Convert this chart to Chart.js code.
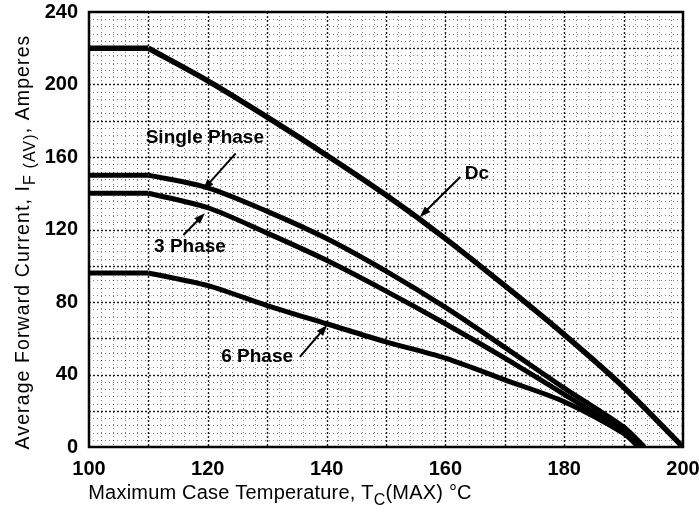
<!DOCTYPE html>
<html>
<head>
<meta charset="utf-8">
<script src="https://cdn.jsdelivr.net/npm/chart.js@4.4.0/dist/chart.umd.min.js"></script>
<style>
  html, body { margin: 0; padding: 0; background: #fff; }
  #wrap { width: 699px; height: 514px; }
</style>
</head>
<body>
<div id="wrap"><canvas id="myChart" width="699" height="514"></canvas></div>
<script>
// Readings (case temperature in °C, current in A)
const dcTemp = [100, 110, 120, 130, 140, 150, 160, 170, 180, 190, 200];
const dcAmps = [220, 220, 202, 182, 161, 139, 115, 89, 62, 33, 0];

const singleTemp = [100, 110, 120, 130, 140, 150, 160, 170, 180, 190, 193.5];
const singleAmps = [150, 150, 143, 130, 115, 97, 77, 55, 32.5, 11, 0];

const threeTemp = [100, 110, 120, 130, 140, 150, 160, 170, 180, 190, 193];
const threeAmps = [140, 140, 132, 118, 103, 86, 68, 49, 29, 8.5, 0];

const sixTemp = [100, 110, 120, 130, 140, 150, 160, 170, 180, 190, 192.5];
const sixAmps = [96, 96, 89, 78, 68, 58, 49, 37, 25, 7.5, 0];

const seriesNames = ['Dc', 'Single Phase', '3 Phase', '6 Phase'];

const xTicks = [100, 120, 140, 160, 180, 200];
const yTicks = [0, 40, 80, 120, 160, 200, 240];

// labels with arrows, in data units: text centre, arrow tail, arrow tip
const notes = [
  { text: 'Single Phase', at: [119.5, 170.5], from: [124.7, 162], to: [119.2, 141.8] },
  { text: '3 Phase', at: [117, 110.5], from: [115.9, 117], to: [119.5, 129] },
  { text: '6 Phase', at: [128.3, 49.7], from: [135.5, 49.7], to: [140.1, 67.3] },
  { text: 'Dc', at: [165.3, 150.6], from: [162.5, 149], to: [155.7, 126.9] }
];

function toPoints(xs, ys) {
  return xs.map((x, i) => ({ x: x, y: ys[i] }));
}

const FONT = "'Liberation Sans', Arial, sans-serif";

// dotted graph-paper grid + heavy frame
const gridPlugin = {
  id: 'paperGrid',
  beforeDatasetsDraw(chart) {
    const ctx = chart.ctx;
    const a = chart.chartArea;
    const xs = chart.scales.x;
    const ys = chart.scales.y;
    ctx.save();

    // minor lines
    ctx.strokeStyle = 'rgba(0,0,0,0.5)';
    ctx.lineWidth = 1;
    ctx.setLineDash([1, 3]);
    for (let v = 100; v <= 200; v += 2) {
      if (v % 10 === 0) continue;
      const px = Math.round(xs.getPixelForValue(v)) + 0.5;
      ctx.beginPath(); ctx.moveTo(px, a.top); ctx.lineTo(px, a.bottom); ctx.stroke();
    }
    for (let v = 0; v <= 240; v += 4) {
      if (v % 20 === 0) continue;
      const py = Math.round(ys.getPixelForValue(v)) + 0.5;
      ctx.beginPath(); ctx.moveTo(a.left, py); ctx.lineTo(a.right, py); ctx.stroke();
    }

    // major lines
    ctx.strokeStyle = 'rgba(0,0,0,0.9)';
    ctx.lineWidth = 1.4;
    ctx.setLineDash([2, 2]);
    for (let v = 110; v < 200; v += 10) {
      const px = Math.round(xs.getPixelForValue(v)) + 0.5;
      ctx.beginPath(); ctx.moveTo(px, a.top); ctx.lineTo(px, a.bottom); ctx.stroke();
    }
    for (let v = 20; v < 240; v += 20) {
      const py = Math.round(ys.getPixelForValue(v)) + 0.5;
      ctx.beginPath(); ctx.moveTo(a.left, py); ctx.lineTo(a.right, py); ctx.stroke();
    }

    // frame
    ctx.setLineDash([]);
    ctx.strokeStyle = '#000';
    ctx.lineWidth = 2.5;
    ctx.strokeRect(a.left, a.top, a.right - a.left, a.bottom - a.top);
    ctx.restore();
  }
};

function drawArrow(ctx, x1, y1, x2, y2) {
  const ang = Math.atan2(y2 - y1, x2 - x1);
  const len = 11, half = 4;
  ctx.beginPath();
  ctx.moveTo(x1, y1);
  ctx.lineTo(x2 - Math.cos(ang) * len * 0.8, y2 - Math.sin(ang) * len * 0.8);
  ctx.stroke();
  ctx.beginPath();
  ctx.moveTo(x2, y2);
  ctx.lineTo(x2 - Math.cos(ang) * len + Math.sin(ang) * half, y2 - Math.sin(ang) * len - Math.cos(ang) * half);
  ctx.lineTo(x2 - Math.cos(ang) * len - Math.sin(ang) * half, y2 - Math.sin(ang) * len + Math.cos(ang) * half);
  ctx.closePath();
  ctx.fill();
}

const notesPlugin = {
  id: 'curveNotes',
  afterDatasetsDraw(chart) {
    const ctx = chart.ctx;
    const xs = chart.scales.x;
    const ys = chart.scales.y;
    ctx.save();
    ctx.fillStyle = '#000';
    ctx.strokeStyle = '#000';
    ctx.lineWidth = 2;
    ctx.font = 'bold 19px ' + FONT;
    ctx.textAlign = 'center';
    ctx.textBaseline = 'middle';
    notes.forEach(n => {
      ctx.fillText(n.text, xs.getPixelForValue(n.at[0]), ys.getPixelForValue(n.at[1]));
      drawArrow(ctx,
        xs.getPixelForValue(n.from[0]), ys.getPixelForValue(n.from[1]),
        xs.getPixelForValue(n.to[0]), ys.getPixelForValue(n.to[1]));
    });
    ctx.restore();
  }
};

// writes "pre" + subscript + "post" starting at x (baseline y)
function drawSubText(ctx, parts, x, y, size) {
  ctx.font = size + 'px ' + FONT;
  ctx.fillText(parts[0], x, y);
  x += ctx.measureText(parts[0]).width;
  ctx.font = Math.round(size * 0.8) + 'px ' + FONT;
  ctx.fillText(parts[1], x, y + size * 0.3);
  x += ctx.measureText(parts[1]).width;
  ctx.font = size + 'px ' + FONT;
  ctx.fillText(parts[2], x, y);
}

function subTextWidth(ctx, parts, size) {
  ctx.font = size + 'px ' + FONT;
  let w = ctx.measureText(parts[0]).width + ctx.measureText(parts[2]).width;
  ctx.font = Math.round(size * 0.8) + 'px ' + FONT;
  return w + ctx.measureText(parts[1]).width;
}

const titlesPlugin = {
  id: 'axisTitles',
  afterDraw(chart) {
    const ctx = chart.ctx;
    ctx.save();
    ctx.fillStyle = '#000';
    ctx.textAlign = 'left';
    ctx.textBaseline = 'alphabetic';

    ctx.letterSpacing = '0.2px';
    const xParts = ['Maximum Case Temperature, T', 'C', '(MAX) °C'];
    const xw = subTextWidth(ctx, xParts, 20);
    drawSubText(ctx, xParts, 280 - xw / 2, 499, 20);

    ctx.letterSpacing = '1.1px';
    const yParts = ['Average Forward Current, I', 'F (AV)', ', Amperes'];
    const yw = subTextWidth(ctx, yParts, 19.5);
    ctx.translate(29, 242);
    ctx.rotate(-Math.PI / 2);
    drawSubText(ctx, yParts, -yw / 2, 0, 19.5);
    ctx.restore();
  }
};

const lineStyle = {
  borderColor: '#000',
  backgroundColor: '#000',
  pointRadius: 0,
  fill: false,
  borderJoinStyle: 'round',
  borderCapStyle: 'butt'
};

// each curve: a flat run up to the knee, then a smooth falling part
function curveSets(name, xs, ys, width) {
  const knee = 1;
  return [
    Object.assign({ label: name, data: toPoints(xs.slice(0, knee + 1), ys.slice(0, knee + 1)),
      borderWidth: width, tension: 0 }, lineStyle),
    Object.assign({ label: name, data: toPoints(xs.slice(knee), ys.slice(knee)),
      borderWidth: width, tension: 0.3 }, lineStyle)
  ];
}

const ctx = document.getElementById('myChart').getContext('2d');
new Chart(ctx, {
  type: 'line',
  data: {
    datasets: [].concat(
      curveSets(seriesNames[0], dcTemp, dcAmps, 5.5),
      curveSets(seriesNames[1], singleTemp, singleAmps, 5),
      curveSets(seriesNames[2], threeTemp, threeAmps, 5),
      curveSets(seriesNames[3], sixTemp, sixAmps, 5)
    )
  },
  options: {
    responsive: false,
    animation: false,
    layout: { padding: { left: 0, top: 12, right: 16, bottom: 0 } },
    plugins: {
      legend: { display: false },
      tooltip: { enabled: false }
    },
    scales: {
      x: {
        type: 'linear',
        min: 100,
        max: 200,
        afterBuildTicks: (scale) => { scale.ticks = xTicks.map(v => ({ value: v })); },
        ticks: {
          color: '#000',
          padding: 10,
          maxRotation: 0,
          font: { family: FONT, size: 20, weight: 'bold' }
        },
        grid: { display: false, drawTicks: false },
        border: { display: false },
        afterFit: (scale) => {
          scale.height = 67;
          scale.paddingLeft = 0;
          scale.paddingRight = 0;
        }
      },
      y: {
        min: 0,
        max: 240,
        afterBuildTicks: (scale) => { scale.ticks = yTicks.map(v => ({ value: v })); },
        ticks: {
          color: '#000',
          padding: 11,
          font: { family: FONT, size: 20, weight: 'bold' }
        },
        grid: { display: false, drawTicks: false },
        border: { display: false },
        afterFit: (scale) => {
          scale.width = 89;
          scale.paddingTop = 0;
          scale.paddingBottom = 0;
        }
      }
    }
  },
  plugins: [gridPlugin, notesPlugin, titlesPlugin]
});
</script>
</body>
</html>
